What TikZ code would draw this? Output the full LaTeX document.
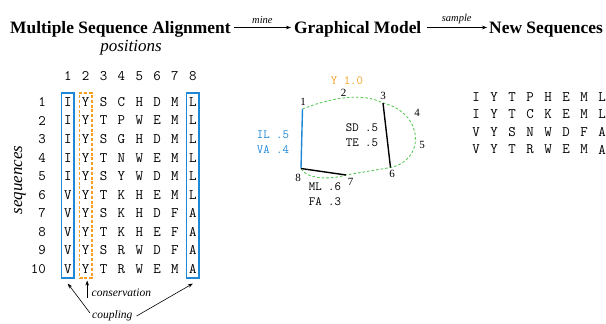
\documentclass[tikz,border=0pt]{standalone}
\usepackage{fontspec}
\setmainfont{Liberation Serif}
\usetikzlibrary{arrows.meta,fit}
\definecolor{cblue}{RGB}{30,136,214}
\definecolor{corange}{RGB}{247,160,35}
\definecolor{cgreen}{RGB}{90,200,90}
\tikzset{
  titletext/.style={font=\fontsize{17.4}{20}\selectfont\bfseries, inner sep=0pt},
  bigital/.style={font=\fontsize{17}{20}\selectfont\itshape, inner sep=0pt},
  smallital/.style={font=\fontsize{11.5}{13}\selectfont\itshape, inner sep=0pt},
  tinyital/.style={font=\fontsize{10.5}{12}\selectfont\itshape, inner sep=0pt},
  msaletter/.style={font=\fontsize{14.5}{16}\selectfont\ttfamily, inner sep=0pt},
  gnum/.style={font=\fontsize{11}{12}\selectfont, inner sep=0pt},
  glab/.style={font=\fontsize{12.5}{14}\selectfont\ttfamily, inner sep=0pt},
  arr/.style={-{Stealth[length=5pt,width=3.6pt]}, line width=0.6pt},
  colbox/.style={draw=cblue, line width=1.4pt, inner xsep=2.2pt, inner ysep=4.2pt},
  consbox/.style={draw=corange, line width=1.5pt, dash pattern=on 3pt off 1.8pt, inner xsep=2.2pt, inner ysep=4.2pt},
  gedge/.style={line width=1.4pt},
  gdash/.style={draw=cgreen, line width=0.9pt, dash pattern=on 2.6pt off 2pt}
}
\begin{document}
\begin{tikzpicture}[x=1pt,y=-1pt]
\useasboundingbox (0,0) rectangle (606,324);

% titles
\node[titletext, anchor=base west] (msa) at (10,33) {Multiple Sequence Alignment};
\node[titletext, anchor=base west] (gm) at (294,33) {Graphical Model};
\node[titletext, anchor=base east] (ns) at (603,33) {New Sequences};
\draw[arr] ([xshift=3pt,yshift=5.5pt]msa.base east) -- node[above=3.5pt, tinyital] (mine) {mine} ([xshift=-3pt,yshift=5.5pt]gm.base west);
\draw[arr] ([xshift=5pt,yshift=5.5pt]gm.base east) -- node[above=3.5pt, tinyital] (sample) {sample} ([xshift=-2pt,yshift=5.5pt]ns.base west);

% axis labels
\node[bigital] (pos) at (131,48) {positions};
\node[bigital, rotate=90] (seqs) at (20,180) {sequences};

% column headers
\foreach \c in {1,...,8} {
  \node[msaletter] (h-\c) at ({67.8+17.86*(\c-1)},76) {\c};
}
% rows
\foreach \r/\s in {1/{I,Y,S,C,H,D,M,L},2/{I,Y,T,P,W,E,M,L},3/{I,Y,S,G,H,D,M,L},4/{I,Y,T,N,W,E,M,L},5/{I,Y,S,Y,W,D,M,L},6/{V,Y,T,K,H,E,M,L},7/{V,Y,S,K,H,D,F,A},8/{V,Y,T,K,H,E,F,A},9/{V,Y,S,R,W,D,F,A},10/{V,Y,T,R,W,E,M,A}} {
  \node[msaletter, anchor=east] (rn-\r) at (46,{102+18.55*(\r-1)}) {\r};
  \foreach \ch [count=\c] in \s {
    \node[msaletter] (m-\r-\c) at ({67.8+17.86*(\c-1)},{102+18.55*(\r-1)}) {\ch};
  }
}
\node[colbox, fit=(m-1-1)(m-10-1)] (b1) {};
\node[colbox, fit=(m-1-8)(m-10-8)] (b8) {};
\node[consbox, fit=(m-1-2)(m-10-2)] (o2) {};

% annotations
\node[smallital, anchor=west] (cons) at (91.5,293) {conservation};
\draw[arr] ([xshift=1.5pt,yshift=-19pt]o2.south) -- ([xshift=1.5pt,yshift=-2pt]o2.south);
\node[smallital, anchor=west] (coup) at (92,316) {coupling};
\draw[arr] ([xshift=-2pt,yshift=3pt]coup.west) -- ([yshift=-5pt]b1.south);
\draw[arr] ([xshift=4pt]coup.east) -- ([yshift=-5pt]b8.south);

% graphical model
\coordinate (p1) at (302.5,109);
\coordinate (p8) at (301,168.5);
\coordinate (p7) at (346,175);
\coordinate (p3) at (383,103);
\coordinate (p6) at (390.5,167.5);
\draw[gdash] (p1) .. controls (330,98) and (362,92) .. (p3)
  .. controls (424,113) and (426,160) .. (p6)
  -- (p7)
  .. controls (330,180) and (306,179) .. (p8);
\draw[gedge, cblue] (p1) -- (p8);
\draw[gedge] (p8) -- (p7);
\draw[gedge] (p3) -- (p6);

\node[gnum] (n1) at (303,101.5) {1};
\node[gnum] (n2) at (343.5,93) {2};
\node[gnum] (n3) at (383,95.5) {3};
\node[gnum] (n4) at (417,113) {4};
\node[gnum] (n5) at (422,145) {5};
\node[gnum] (n6) at (392,173.5) {6};
\node[gnum] (n7) at (350.5,182) {7};
\node[gnum] (n8) at (298,177.5) {8};

\node[glab, text=corange] (ylab) at (347,81) {Y 1.0};
\node[glab, text=cblue] (il) at (273,135) {IL .5};
\node[glab, text=cblue] (va) at (273,150) {VA .4};
\node[glab] (sd) at (362,128) {SD .5};
\node[glab] (te) at (362,143) {TE .5};
\node[glab] (ml) at (325,187) {ML .6};
\node[glab] (fa) at (325,202) {FA .3};

% new sequences
\foreach \r/\s in {1/{I,Y,T,P,H,E,M,L},2/{I,Y,T,C,K,E,M,L},3/{V,Y,S,N,W,D,F,A},4/{V,Y,T,R,W,E,M,A}} {
  \foreach \ch [count=\c] in \s {
    \node[msaletter] (s-\r-\c) at ({476+18*(\c-1)},{97+17.5*(\r-1)}) {\ch};
  }
}
\end{tikzpicture}
\end{document}
